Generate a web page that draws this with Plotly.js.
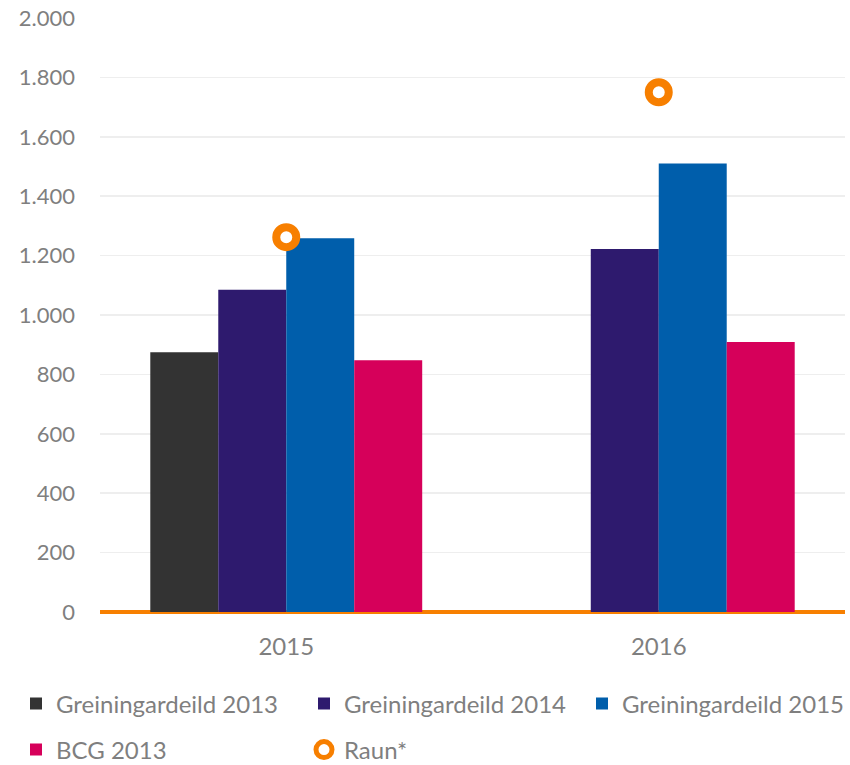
<!DOCTYPE html>
<html>
<head>
<meta charset="utf-8">
<script src="https://cdn.plot.ly/plotly-3.0.1.min.js"></script>
<style>html,body{margin:0;padding:0;background:#fff}#chart{width:850px;height:765px}</style>
</head>
<body>
<div id="chart"></div>
<script>
const categories = ['2015', '2016'];
const greining2013 = [875, null];
const greining2014 = [1085, 1222];
const greining2015 = [1258, 1510];
const bcg2013 = [848, 909];
const raun = [1262, 1750];
const yTicks = [0, 200, 400, 600, 800, 1000, 1200, 1400, 1600, 1800, 2000];

const FONT = 'Lato, "Open Sans", sans-serif';
const GRAY = '#7f7f7f';

const traces = [
  {type: 'bar', name: 'Greiningardeild 2013', x: categories, y: greining2013, marker: {color: '#333333'}, legend: 'legend'},
  {type: 'bar', name: 'Greiningardeild 2014', x: categories, y: greining2014, marker: {color: '#2e1a6e'}, legend: 'legend'},
  {type: 'bar', name: 'Greiningardeild 2015', x: categories, y: greining2015, marker: {color: '#005eab'}, legend: 'legend3'},
  {type: 'bar', name: 'BCG 2013', x: categories, y: bcg2013, marker: {color: '#d6005a'}, legend: 'legend2'},
  {type: 'scatter', mode: 'markers', name: 'Raun*', x: categories, y: raun,
   marker: {symbol: 'circle', size: 20, color: '#ffffff', line: {color: '#f77f00', width: 8}}, legend: 'legend2'}
];

function legendBox(xPx, yPx) {
  return {orientation: 'h', xref: 'container', yref: 'container', x: xPx / 850, y: 1 - yPx / 765,
          xanchor: 'left', yanchor: 'middle', entrywidth: 243, entrywidthmode: 'pixels',
          font: {family: FONT, size: 24, color: GRAY}, traceorder: 'normal', bgcolor: 'rgba(0,0,0,0)'};
}

const layout = {
  width: 850, height: 765,
  margin: {l: 100, r: 5, t: 18, b: 153},
  paper_bgcolor: '#ffffff', plot_bgcolor: '#ffffff',
  separators: ',.',
  font: {family: FONT, size: 22, color: GRAY},
  barmode: 'group', bargap: 0.27, bargroupgap: 0,
  xaxis: {type: 'category', showgrid: false, showline: false, ticks: '', ticklabelstandoff: 18,
          tickfont: {family: FONT, size: 24, color: GRAY}},
  yaxis: {range: [0, 2000], tickvals: yTicks, tickformat: ',', showgrid: true, gridcolor: '#eeeeee', gridwidth: 1.5,
          zeroline: true, zerolinecolor: '#f77f00', zerolinewidth: 4, ticks: '', ticklabelstandoff: 24,
          tickfont: {family: FONT, size: 22, color: GRAY}},
  showlegend: true,
  legend: legendBox(16, 704),
  legend3: legendBox(16 + 2 * 283, 704),
  legend2: legendBox(16, 750)
};

Plotly.newPlot('chart', traces, layout, {displayModeBar: false, staticPlot: true});
</script>
</body>
</html>
